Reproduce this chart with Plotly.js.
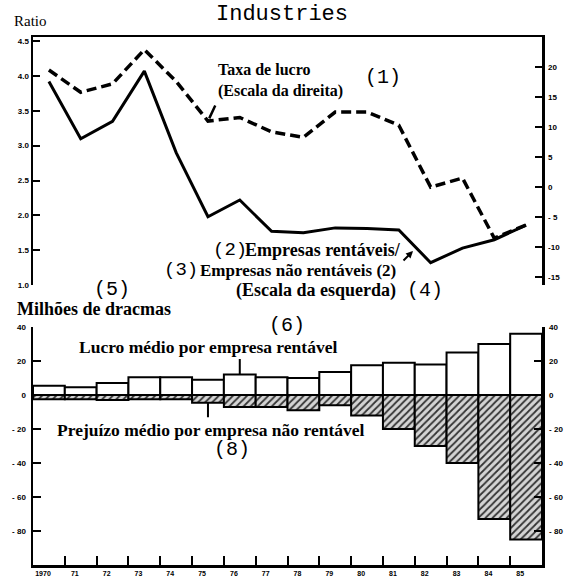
<!DOCTYPE html>
<html>
<head>
<meta charset="utf-8">
<script src="https://cdn.plot.ly/plotly-3.0.1.min.js"></script>
<style>html,body{margin:0;padding:0;background:#fff;}#chart{width:564px;height:576px;}</style>
</head>
<body>
<div id="chart"></div>
<script>
// ---- data ----
var years = [1970,1971,1972,1973,1974,1975,1976,1977,1978,1979,1980,1981,1982,1983,1984,1985];
var yearLabels = ['1970','71','72','73','74','75','76','77','78','79','80','81','82','83','84','85'];
var ratioProfitableToUnprofitable = [3.92,3.10,3.35,4.07,2.90,1.98,2.22,1.77,1.75,1.82,1.81,1.79,1.32,1.53,1.65,1.86];
var profitRate = [19.5,15.8,17.2,22.9,17.6,11.0,11.6,9.2,8.3,12.5,12.5,10.3,0.0,1.5,-8.5,-6.3];
var avgProfit = [5.5,4.5,7,10.5,10.5,9,12,10.5,10,13.5,17.5,19,18,25,30,36];
var avgLoss = [-2.5,-2.5,-3,-2.5,-2.5,-4.5,-7,-7,-9,-6,-12,-20,-30,-40,-73,-85];
var leftTopTicks = [1.0,1.5,2.0,2.5,3.0,3.5,4.0,4.5];
var leftTopTickText = ['1.0','1.5','2.0','2.5','3.0','3.5','4.0','4.5'];
var rightTopTicks = [-15,-10,-5,0,5,10,15,20];
var rightTopTickText = ['-15','-10','- 5','0','5','10','15','20'];
var bottomTicks = [-80,-60,-40,-20,0,20,40];
var bottomTickText = ['- 80','- 60','- 40','- 20','0','20','40'];

// ---- layout helpers (pixel -> paper) ----
var W = 564, H = 576, ML = 33, MR = 22, MT = 37, MB = 11;
var PW = W - ML - MR, PH = H - MT - MB;
function px(x){ return (x - ML) / PW; }
function py(y){ return (H - MB - y) / PH; }

var serif = 'Liberation Serif, Times New Roman, serif';
var mono = 'Liberation Mono, Courier New, monospace';
var tickFont = {family: 'Liberation Sans, Arial, sans-serif', size: 8, color: '#000', weight: 'bold'};

// left edge of each year's bar: tick positions, labels shifted into the bar
var leftEdges = years.map(function(y){ return y - 0.5; });

var traces = [
  {x: years, y: ratioProfitableToUnprofitable, xaxis: 'x', yaxis: 'y', type: 'scatter', mode: 'lines',
   line: {color: '#000', width: 3}, hoverinfo: 'skip'},
  {x: years, y: profitRate, xaxis: 'x', yaxis: 'y2', type: 'scatter', mode: 'lines',
   line: {color: '#000', width: 3.5, dash: '10px,5px'}, hoverinfo: 'skip'},
  {x: years, y: avgProfit, xaxis: 'x2', yaxis: 'y3', type: 'bar', width: 1,
   marker: {color: '#fff', line: {color: '#000', width: 2}}, hoverinfo: 'skip'},
  {x: years, y: avgLoss, xaxis: 'x2', yaxis: 'y4', type: 'bar', width: 1,
   marker: {color: '#d4d4d4', line: {color: '#000', width: 2},
            pattern: {shape: '/', fgcolor: '#333', bgcolor: '#d4d4d4', size: 5, solidity: 0.35}},
   hoverinfo: 'skip'}
];

var topDom = [py(285), 1];
var botDom = [0, py(327)];
var xr = [years[0] - 0.5, years[years.length - 1] + 0.5];

var layout = {
  width: W, height: H,
  margin: {l: ML, r: MR, t: MT, b: MB},
  paper_bgcolor: '#fff', plot_bgcolor: 'rgba(0,0,0,0)',
  showlegend: false, barmode: 'overlay', bargap: 0,
  title: {text: 'Industries', font: {family: mono, size: 22, color: '#000'},
          xref: 'container', x: 0.5, xanchor: 'center', yref: 'container', y: 1 - 12/H, yanchor: 'middle'},
  xaxis: {domain: [0, 1], anchor: 'y', range: xr, side: 'top', showline: true, linecolor: '#000', linewidth: 2.5,
          showgrid: false, zeroline: false, showticklabels: false, ticks: ''},
  yaxis: {domain: topDom, anchor: 'x', range: [1.0, 4.56], showline: true, linecolor: '#000', linewidth: 2.5,
          showgrid: false, zeroline: false, tickmode: 'array', tickvals: leftTopTicks, ticktext: leftTopTickText,
          ticks: 'inside', ticklen: 7, tickwidth: 2, tickcolor: '#000', tickfont: tickFont, ticklabelstandoff: 0},
  yaxis2: {domain: topDom, anchor: 'x', overlaying: 'y', side: 'right', range: [-16.3, 25], showline: true,
           linecolor: '#000', linewidth: 2.5, showgrid: false, zeroline: false, tickmode: 'array',
           tickvals: rightTopTicks, ticktext: rightTopTickText, ticks: 'inside', ticklen: 7, tickwidth: 2,
           tickcolor: '#000', tickfont: tickFont, ticklabelstandoff: 2},
  xaxis2: {domain: [0, 1], anchor: 'y3', range: xr, showline: true, linecolor: '#000', linewidth: 2.5,
           showgrid: false, zeroline: false, tickmode: 'array', tickvals: leftEdges, ticktext: yearLabels,
           ticks: 'inside', ticklen: 9, tickwidth: 2, tickcolor: '#000',
           tickfont: {family: 'Liberation Sans, Arial, sans-serif', size: 7, color: '#000', weight: 'bold'},
           ticklabelshift: 10, ticklabelstandoff: 0},
  yaxis3: {domain: botDom, anchor: 'x2', range: [-100, 40], showline: true, linecolor: '#000', linewidth: 2.5,
           showgrid: false, zeroline: false, tickmode: 'array', tickvals: bottomTicks, ticktext: bottomTickText,
           ticks: 'inside', ticklen: 8, tickwidth: 2, tickcolor: '#000', tickfont: tickFont, ticklabelstandoff: 3},
  yaxis4: {domain: botDom, anchor: 'x2', overlaying: 'y3', side: 'right', range: [-100, 40], showline: true,
           linecolor: '#000', linewidth: 2.5, showgrid: false, zeroline: false, tickmode: 'array',
           tickvals: bottomTicks, ticktext: bottomTickText, ticks: 'inside', ticklen: 8, tickwidth: 2,
           tickcolor: '#000', tickfont: tickFont, ticklabelstandoff: 3},
  annotations: []
};

function txt(text, x, y, size, fam, xanchor, bold){
  var a = {text: text, xref: 'paper', yref: 'paper', x: px(x), y: py(y), xanchor: xanchor || 'left',
           yanchor: 'middle', showarrow: false, font: {family: fam, size: size, color: '#000'}, align: 'left'};
  if (bold) a.font.weight = 'bold';
  layout.annotations.push(a);
}
txt('Ratio', 12, 21, 15, serif);
txt('Taxa de lucro<br>(Escala da direita)', 216, 80, 16, serif, 'left', true);
txt('(1)', 383, 77, 20, mono, 'center');
txt('(2)', 230, 250, 19, mono, 'center');
txt('Empresas rentáveis/', 403, 250, 18, serif, 'right', true);
txt('(3)', 181, 270, 19, mono, 'center');
txt('Empresas não rentáveis (2)', 398, 270, 17, serif, 'right', true);
txt('(Escala da esquerda)', 398, 290, 18, serif, 'right', true);
txt('(4)', 425, 290, 20, mono, 'center');
txt('(5)', 112, 289, 20, mono, 'center');
txt('Milhões de dracmas', 15, 309, 18, serif, 'left', true);
txt('(6)', 287, 325, 20, mono, 'center');
txt('Lucro médio por empresa rentável', 77, 347, 17.5, serif, 'left', true);
txt('Prejuízo médio por empresa não rentável', 55, 430, 17.5, serif, 'left', true);
txt('(8)', 232, 449, 20, mono, 'center');

// arrows
layout.annotations.push({x: 1975, y: profitRate[5], xref: 'x', yref: 'y2', text: '', showarrow: true,
  arrowhead: 0, arrowwidth: 2.5, arrowcolor: '#000', ax: 8, ay: -17, standoff: 3});
layout.annotations.push({x: px(413), y: py(251), xref: 'paper', yref: 'paper', text: '', showarrow: true,
  arrowhead: 2, arrowsize: 0.7, arrowwidth: 2, arrowcolor: '#000', ax: -11, ay: 11});
layout.annotations.push({x: 1976, y: avgProfit[6], xref: 'x2', yref: 'y3', text: '', showarrow: true,
  arrowhead: 0, arrowwidth: 2, arrowcolor: '#000', ax: 0, ay: -17});
layout.annotations.push({x: 1975, y: avgLoss[5], xref: 'x2', yref: 'y4', text: '', showarrow: true,
  arrowhead: 0, arrowwidth: 2, arrowcolor: '#000', ax: 0, ay: 16});

Plotly.newPlot('chart', traces, layout, {staticPlot: true, displayModeBar: false});
</script>
</body>
</html>
